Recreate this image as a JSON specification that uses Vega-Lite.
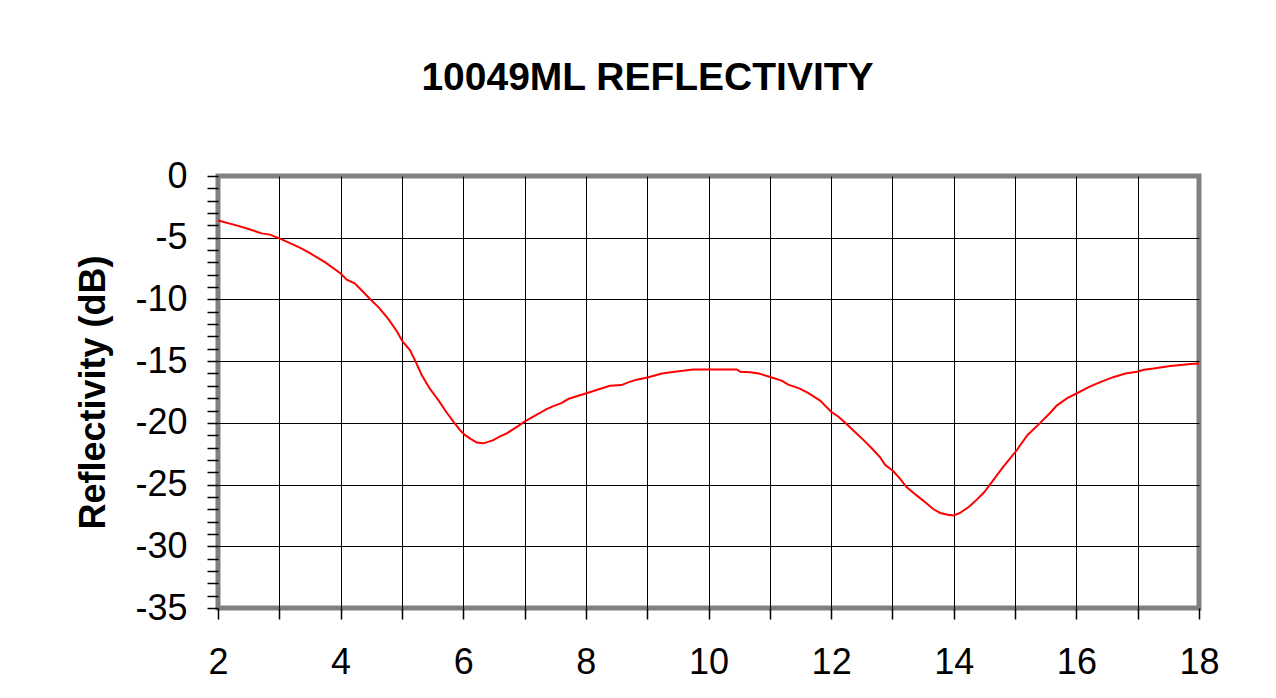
{
  "$schema": "https://vega.github.io/schema/vega-lite/v6.json",
  "autosize": "none",
  "width": 981,
  "height": 432,
  "padding": {"left": 218, "top": 176, "right": 77, "bottom": 90},
  "background": "white",
  "title": {
    "text": "10049ML REFLECTIVITY",
    "font": "Liberation Sans",
    "fontSize": 39,
    "fontWeight": "bold",
    "color": "black",
    "frame": "bounds",
    "anchor": "middle",
    "offset": 60
  },
  "config": {
    "view": {"stroke": "#808080", "strokeWidth": 5},
    "axis": {
      "labelFont": "Liberation Sans",
      "labelFontSize": 36,
      "labelColor": "black",
      "titleFont": "Liberation Sans",
      "titleColor": "black",
      "domain": false,
      "tickColor": "black",
      "tickWidth": 1.5,
      "tickSize": 11,
      "gridColor": "black",
      "gridWidth": 1
    }
  },
  "data": {
    "values": [
      {"f": 2.0, "r": -3.6}, {"f": 2.3, "r": -4.0}, {"f": 2.5, "r": -4.3}, {"f": 2.71, "r": -4.65},
      {"f": 2.85, "r": -4.75}, {"f": 3.02, "r": -5.1}, {"f": 3.2, "r": -5.5}, {"f": 3.35, "r": -5.85},
      {"f": 3.5, "r": -6.25}, {"f": 3.75, "r": -7.0}, {"f": 4.0, "r": -7.9}, {"f": 4.1, "r": -8.4},
      {"f": 4.23, "r": -8.7}, {"f": 4.35, "r": -9.3}, {"f": 4.48, "r": -9.97}, {"f": 4.62, "r": -10.64},
      {"f": 4.78, "r": -11.6}, {"f": 4.92, "r": -12.6}, {"f": 5.01, "r": -13.4}, {"f": 5.13, "r": -14.1},
      {"f": 5.22, "r": -15.0}, {"f": 5.32, "r": -16.1}, {"f": 5.45, "r": -17.2}, {"f": 5.6, "r": -18.2},
      {"f": 5.72, "r": -19.1}, {"f": 5.84, "r": -19.9}, {"f": 5.95, "r": -20.6}, {"f": 6.03, "r": -21.0},
      {"f": 6.12, "r": -21.3}, {"f": 6.22, "r": -21.6}, {"f": 6.33, "r": -21.66}, {"f": 6.49, "r": -21.4},
      {"f": 6.6, "r": -21.1}, {"f": 6.71, "r": -20.85}, {"f": 6.85, "r": -20.4}, {"f": 7.0, "r": -19.9},
      {"f": 7.12, "r": -19.55}, {"f": 7.25, "r": -19.2}, {"f": 7.35, "r": -18.9}, {"f": 7.47, "r": -18.64},
      {"f": 7.6, "r": -18.4}, {"f": 7.72, "r": -18.05}, {"f": 7.85, "r": -17.85}, {"f": 8.01, "r": -17.6},
      {"f": 8.2, "r": -17.3}, {"f": 8.39, "r": -17.0}, {"f": 8.58, "r": -16.94}, {"f": 8.7, "r": -16.7},
      {"f": 8.83, "r": -16.5}, {"f": 9.02, "r": -16.3}, {"f": 9.24, "r": -16.0}, {"f": 9.45, "r": -15.86},
      {"f": 9.75, "r": -15.67}, {"f": 10.03, "r": -15.67}, {"f": 10.46, "r": -15.67}, {"f": 10.52, "r": -15.86},
      {"f": 10.68, "r": -15.9}, {"f": 10.82, "r": -16.0}, {"f": 11.02, "r": -16.3}, {"f": 11.2, "r": -16.6},
      {"f": 11.3, "r": -16.9}, {"f": 11.48, "r": -17.2}, {"f": 11.63, "r": -17.6}, {"f": 11.82, "r": -18.2},
      {"f": 12.0, "r": -19.1}, {"f": 12.12, "r": -19.5}, {"f": 12.23, "r": -20.0}, {"f": 12.38, "r": -20.7},
      {"f": 12.53, "r": -21.4}, {"f": 12.67, "r": -22.1}, {"f": 12.8, "r": -22.8}, {"f": 12.88, "r": -23.4},
      {"f": 13.01, "r": -23.9}, {"f": 13.12, "r": -24.5}, {"f": 13.23, "r": -25.2}, {"f": 13.35, "r": -25.7},
      {"f": 13.45, "r": -26.1}, {"f": 13.55, "r": -26.5}, {"f": 13.67, "r": -27.0}, {"f": 13.78, "r": -27.3},
      {"f": 13.9, "r": -27.45}, {"f": 14.0, "r": -27.5}, {"f": 14.1, "r": -27.3}, {"f": 14.25, "r": -26.8},
      {"f": 14.38, "r": -26.2}, {"f": 14.5, "r": -25.6}, {"f": 14.59, "r": -25.0}, {"f": 14.8, "r": -23.6},
      {"f": 15.03, "r": -22.2}, {"f": 15.2, "r": -21.0}, {"f": 15.41, "r": -20.0}, {"f": 15.57, "r": -19.2},
      {"f": 15.68, "r": -18.6}, {"f": 15.85, "r": -18.0}, {"f": 16.01, "r": -17.6}, {"f": 16.2, "r": -17.1},
      {"f": 16.39, "r": -16.7}, {"f": 16.6, "r": -16.3}, {"f": 16.8, "r": -16.0}, {"f": 16.99, "r": -15.86},
      {"f": 17.1, "r": -15.7}, {"f": 17.26, "r": -15.6}, {"f": 17.53, "r": -15.4}, {"f": 17.75, "r": -15.3},
      {"f": 17.86, "r": -15.24}, {"f": 18.0, "r": -15.2}
    ]
  },
  "mark": {"type": "line", "color": "#ff0000", "strokeWidth": 2, "clip": true},
  "encoding": {
    "x": {
      "field": "f",
      "type": "quantitative",
      "scale": {"domain": [2, 18], "nice": false, "zero": false},
      "axis": {
        "title": null,
        "values": [2, 3, 4, 5, 6, 7, 8, 9, 10, 11, 12, 13, 14, 15, 16, 17, 18],
        "labelExpr": "datum.value % 2 === 0 ? '' + datum.value : ''",
        "labelPadding": 26,
        "labelFlush": false,
        "labelOverlap": false,
        "gridOpacity": {"condition": {"test": "datum.value === 2 || datum.value === 18", "value": 0}, "value": 1}
      }
    },
    "y": {
      "field": "r",
      "type": "quantitative",
      "scale": {"domain": [-35, 0], "nice": false},
      "axis": {
        "title": "Reflectivity (dB)",
        "titleFontSize": 36,
        "titleFontWeight": "bold",
        "titlePadding": 22,
        "values": [0, -1, -2, -3, -4, -5, -6, -7, -8, -9, -10, -11, -12, -13, -14, -15, -16, -17, -18, -19, -20, -21, -22, -23, -24, -25, -26, -27, -28, -29, -30, -31, -32, -33, -34, -35],
        "labelExpr": "datum.value % 5 === 0 ? '' + datum.value : ''",
        "labelPadding": 20,
        "labelFlush": false,
        "labelOverlap": false,
        "gridOpacity": {"condition": {"test": "datum.value % 5 === 0 && datum.value !== 0 && datum.value !== -35", "value": 1}, "value": 0}
      }
    }
  }
}
